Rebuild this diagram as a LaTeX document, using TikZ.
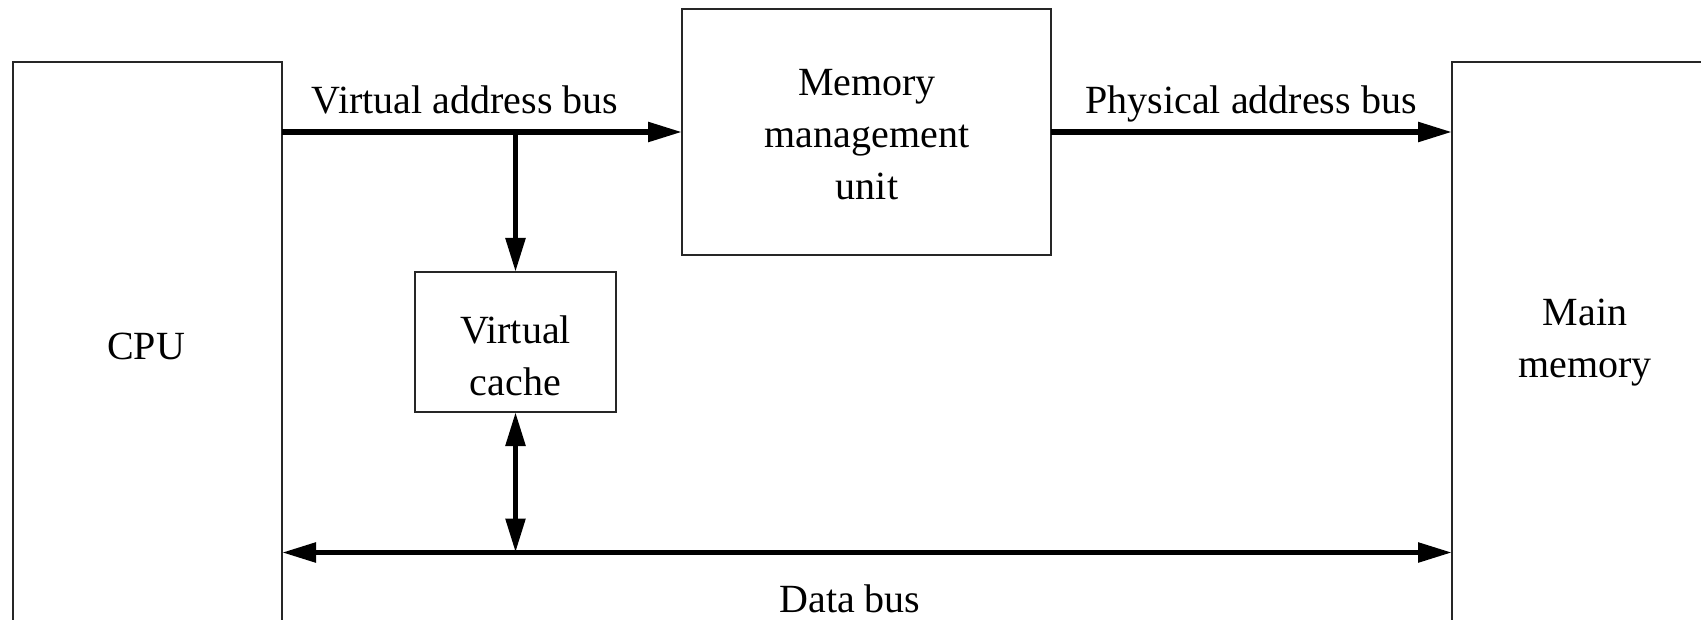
\documentclass[tikz,border=0pt]{standalone}
\usepackage{fontspec}
\setmainfont{Liberation Serif}
\usetikzlibrary{arrows.meta}

\begin{document}
\begin{tikzpicture}[x=0.5pt, y=-0.5pt,
  unitbox/.style={draw=black!85, line width=0.6pt, inner sep=0pt, outer sep=0pt},
  txt/.style={font=\fontsize{20}{26}\selectfont, align=center, inner sep=0pt, anchor=base},
  bus/.style={line width=2.75pt, -{Triangle[length=17pt, width=9.5pt]}},
  dbus/.style={line width=2.75pt, {Triangle[length=17pt, width=9.5pt]}-{Triangle[length=17pt, width=9.5pt]}}]
  \useasboundingbox (0,0) rectangle (1701,620);
  \clip (0,0) rectangle (1701,620);

  % functional units
  \node[unitbox, minimum width=134.5pt, minimum height=319pt] (cpu) at (147.5,381) {};
  \node[unitbox, minimum width=184.5pt, minimum height=123pt] (mmu) at (866.5,132) {};
  \node[unitbox, minimum width=100.5pt, minimum height=70pt] (vcache) at (515.5,342) {};
  \node[unitbox, minimum width=154pt, minimum height=319pt] (mem) at (1606,381) {};

  % unit names (anchored at the baseline of the last line)
  \node[txt] (cputxt) at (146,359) {CPU};
  \node[txt] (mmutxt) at (867,200) {Memory\\management\\unit};
  \node[txt] (vctxt) at (515.5,395) {Virtual\\cache};
  \node[txt] (memtxt) at (1585,377) {Main\\memory};

  % bus labels
  \node[txt] (vabl) at (465,114) {Virtual address bus};
  \node[txt] (pabl) at (1251,114) {Physical address bus};
  \node[txt] (dbl) at (850,612) {Data bus};

  % buses
  \coordinate (vaL) at (cpu.east |- mmu.west);
  \coordinate (vaT) at (vcache.north |- mmu.west);
  \coordinate (dL) at (282,552.5);
  \coordinate (dR) at (mem.west |- dL);
  \coordinate (dT) at (vcache.south |- dL);

  \draw[bus] (vaL) -- (mmu.west);
  \draw[bus] (vaT) -- (vcache.north);
  \draw[bus] (mmu.east) -- (mmu.east -| mem.west);
  \draw[dbus] (dL) -- (dR);
  \draw[dbus] (vcache.south) -- (dT);
\end{tikzpicture}
\end{document}
